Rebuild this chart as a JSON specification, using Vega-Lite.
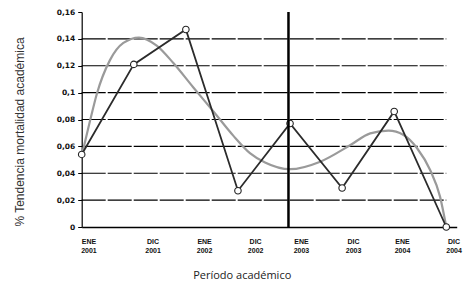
{
  "$schema": "https://vega.github.io/schema/vega-lite/v6.json",
  "autosize": "none",
  "padding": {"left": 81.7, "top": 12, "right": 8.3, "bottom": 55},
  "width": 375,
  "height": 215,
  "background": "white",
  "config": {"view": {"stroke": null}},
  "datasets": {
    "serie": [
      {"x": 0, "periodo": "ENE 2001", "valor": 0.054},
      {"x": 1, "periodo": "DIC 2001", "valor": 0.121},
      {"x": 2, "periodo": "ENE 2002", "valor": 0.147},
      {"x": 3, "periodo": "DIC 2002", "valor": 0.027},
      {"x": 4, "periodo": "ENE 2003", "valor": 0.077},
      {"x": 5, "periodo": "DIC 2003", "valor": 0.029},
      {"x": 6, "periodo": "ENE 2004", "valor": 0.086},
      {"x": 7, "periodo": "DIC 2004", "valor": 0.0}
    ],
    "tendencia": [
      {"x": 0.0, "valor": 0.053},
      {"x": 0.16, "valor": 0.079},
      {"x": 0.29, "valor": 0.099},
      {"x": 0.54, "valor": 0.124},
      {"x": 0.8, "valor": 0.137},
      {"x": 1.1, "valor": 0.141},
      {"x": 1.44, "valor": 0.135},
      {"x": 1.76, "valor": 0.122},
      {"x": 2.14, "valor": 0.104},
      {"x": 2.53, "valor": 0.086},
      {"x": 2.91, "valor": 0.068},
      {"x": 3.23, "valor": 0.055},
      {"x": 3.52, "valor": 0.048},
      {"x": 4.0, "valor": 0.043},
      {"x": 4.58, "valor": 0.0486},
      {"x": 5.16, "valor": 0.061},
      {"x": 5.54, "valor": 0.0697},
      {"x": 5.89, "valor": 0.0717},
      {"x": 6.18, "valor": 0.0685},
      {"x": 6.44, "valor": 0.0586},
      {"x": 6.69, "valor": 0.0424},
      {"x": 6.88, "valor": 0.0226},
      {"x": 7.0, "valor": 0.0}
    ],
    "grid": [
      {"valor": 0.02}, {"valor": 0.04}, {"valor": 0.06}, {"valor": 0.08},
      {"valor": 0.1}, {"valor": 0.12}, {"valor": 0.14}
    ],
    "corte": [{"x": 3.97}]
  },
  "layer": [
    {
      "data": {"name": "grid"},
      "mark": {"type": "rule", "color": "#000", "strokeWidth": 1.2, "strokeDash": [24, 2]},
      "encoding": {
        "x": {
          "datum": 0, "type": "quantitative",
          "scale": {"domain": [0, 7.2], "nice": false, "zero": false},
          "axis": {
            "title": "Período académico",
            "titleFont": "Open Sans", "titleFontSize": 11, "titleFontWeight": "normal", "titleColor": "#222",
            "titleX": 160, "titleY": 51.5, "titleBaseline": "alphabetic", "titleAlign": "center",
            "values": [0.13, 1.36, 2.35, 3.33, 4.21, 5.21, 6.15, 7.14],
            "tickCount": 12,
            "labelExpr": "datum.value < 0.5 ? ['ENE','2001'] : datum.value < 1.5 ? ['DIC','2001'] : datum.value < 2.5 ? ['ENE','2002'] : datum.value < 3.5 ? ['DIC','2002'] : datum.value < 4.5 ? ['ENE','2003'] : datum.value < 5.5 ? ['DIC','2003'] : datum.value < 6.5 ? ['ENE','2004'] : ['DIC','2004']",
            "labelFont": "Liberation Sans", "labelFontSize": 7, "labelFontWeight": "bold", "labelColor": "#111",
            "labelLineHeight": 9, "labelPadding": 10, "labelAngle": 0, "labelAlign": "center",
            "labelOverlap": false, "labelFlush": false, "labelBound": false,
            "ticks": false, "grid": false,
            "domainColor": "#000", "domainWidth": 1.5
          }
        },
        "x2": {"datum": 7},
        "y": {
          "field": "valor", "type": "quantitative",
          "scale": {"domain": [0, 0.16], "nice": false},
          "axis": {
            "title": "% Tendencia mortalidad académica",
            "titleFont": "Liberation Sans", "titleFontSize": 12, "titleFontWeight": "normal", "titleColor": "#333",
            "titleX": -55, "titleY": 119.5, "titleAlign": "center", "titleAngle": -90,
            "values": [0, 0.02, 0.04, 0.06, 0.08, 0.1, 0.12, 0.14, 0.16],
            "tickCount": 12,
            "labelExpr": "replace(format(datum.value, '.2~f'), '.', ',')",
            "labelFont": "DejaVu Sans", "labelFontSize": 7.5, "labelFontWeight": "bold", "labelColor": "#111",
            "labelOverlap": false, "labelFlush": false, "labelBound": false,
            "labelPadding": 3, "tickSize": 4, "tickColor": "#000", "tickWidth": 1,
            "grid": false, "domainColor": "#000", "domainWidth": 1.2
          }
        }
      }
    },
    {
      "data": {"name": "tendencia"},
      "mark": {"type": "line", "color": "#9a9a9a", "strokeWidth": 2.2, "interpolate": "monotone"},
      "encoding": {
        "x": {"field": "x", "type": "quantitative"},
        "y": {"field": "valor", "type": "quantitative"}
      }
    },
    {
      "data": {"name": "serie"},
      "mark": {"type": "line", "color": "#2b2b2b", "strokeWidth": 1.8},
      "encoding": {
        "x": {"field": "x", "type": "quantitative"},
        "y": {"field": "valor", "type": "quantitative"}
      }
    },
    {
      "data": {"name": "serie"},
      "mark": {"type": "point", "shape": "circle", "filled": true, "fill": "white", "stroke": "#222", "strokeWidth": 1.1, "size": 42, "opacity": 1},
      "encoding": {
        "x": {"field": "x", "type": "quantitative"},
        "y": {"field": "valor", "type": "quantitative"}
      }
    },
    {
      "data": {"name": "corte"},
      "mark": {"type": "rule", "color": "#000", "strokeWidth": 2.5},
      "encoding": {
        "x": {"field": "x", "type": "quantitative"},
        "y": {"datum": 0, "type": "quantitative"},
        "y2": {"datum": 0.16}
      }
    }
  ]
}
